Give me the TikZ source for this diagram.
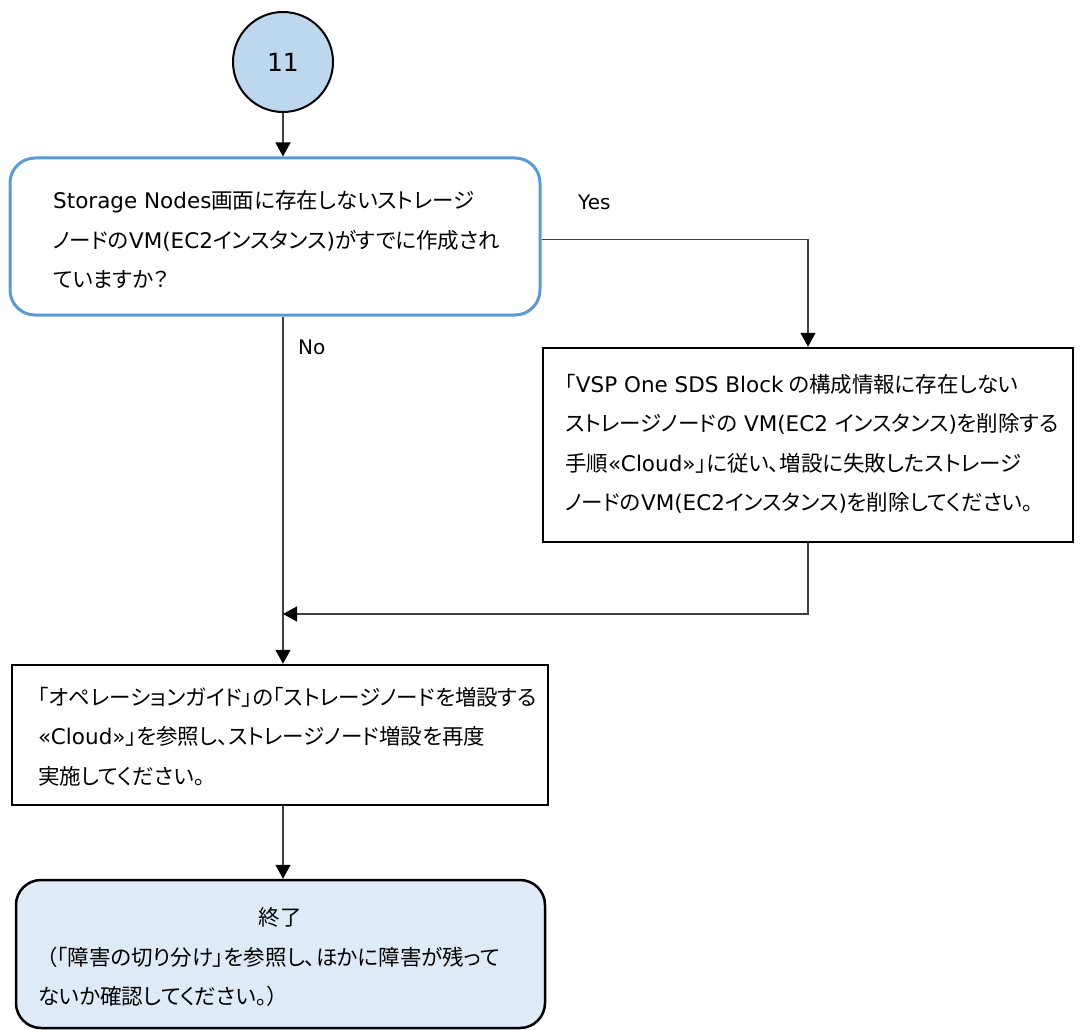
\documentclass[tikz,border=0pt]{standalone}
\usepackage{fontspec}
\setmainfont{Noto Sans CJK JP}[CharacterWidth=AlternateProportional]
\newfontfamily\latnfont{DejaVu Sans}
\newcommand\myl[1]{{\latnfont #1}}
\usetikzlibrary{arrows.meta}
\definecolor{cfill}{HTML}{BDD7EE}
\definecolor{efill}{HTML}{DEEBF7}
\definecolor{dblue}{HTML}{5B9BD5}
\definecolor{conncol}{HTML}{404040}
\begin{document}
\begin{tikzpicture}[x=1pt,y=-1pt,
  every node/.style={font=\fontsize{21.5}{39.5}\selectfont},
  startc/.style={circle, draw=black, line width=2pt, fill=cfill, minimum size=100pt, inner sep=0pt, font=\fontsize{25}{30}\selectfont\latnfont},
  decbox/.style={draw=dblue, line width=3pt, rounded corners=25pt, fill=white, inner sep=0pt},
  actbox/.style={draw=black, line width=2.5pt, fill=white, inner sep=0pt},
  endbox/.style={draw=black, line width=2.5pt, rounded corners=25pt, fill=efill, inner sep=0pt},
  txt/.style={inner sep=0pt, align=left, anchor=west, text=black},
  lbl/.style={inner sep=0pt, text=black},
  conn/.style={draw=conncol, line width=1.3pt},
  arr/.style={conn, -{Triangle[width=15pt,length=14pt,color=black]}}
]
\useasboundingbox (0,0) rectangle (1080,1030);

% nodes
\node[startc] (c) at (283,62) {11};
\node[decbox, minimum width=530pt, minimum height=157pt] (d) at (275,236.5) {};
\node[txt] (dt) at (53,240) {\myl{Storage Nodes}画面に存在しないストレージ\\ノードの\myl{VM(EC2}インスタンス\myl{)}がすでに作成され\\ていますか？};

\node[actbox, minimum width=530pt, minimum height=194pt] (a) at (808,445) {};
\node[txt] (at) at (565,444) {「\myl{VSP One SDS Block} の構成情報に存在しない\\ストレージノードの\myl{ VM(EC2 }インスタンス\myl{)}を削除する\\手順\myl{«Cloud»}」に従い、増設に失敗したストレージ\\ノードの\myl{VM(EC2}インスタンス\myl{)}を削除してください。};

\node[actbox, minimum width=536pt, minimum height=140pt] (b) at (280,735) {};
\node[txt] (bt) at (38,736.5) {「オペレーションガイド」の「ストレージノードを増設する\\\myl{«Cloud»}」を参照し、ストレージノード増設を再度\\実施してください。};

\node[endbox, minimum width=529pt, minimum height=148pt] (e) at (280.5,954) {};
\node[lbl] (et) at (280,917) {終了};
\node[txt] (eb) at (38,977) {\hspace*{8pt}（「障害の切り分け」を参照し、ほかに障害が残って\\ないか確認してください。）};

\node[lbl, anchor=west, font=\fontsize{20}{24}\selectfont\latnfont] (yes) at (578,202) {Yes};
\node[lbl, anchor=west, font=\fontsize{20}{24}\selectfont\latnfont] (no) at (298,347) {No};

\coordinate (m) at (283,614);

% connectors
\draw[arr] (c.south) -- (c.south |- d.north);
\draw[arr] ([yshift=-3pt]d.east) -| (a.north);
\draw[arr] (c |- d.south) -- (c |- b.north);
\draw[arr] (a.south) |- (m);
\draw[arr] (c |- b.south) -- (c |- e.north);
\end{tikzpicture}
\end{document}
